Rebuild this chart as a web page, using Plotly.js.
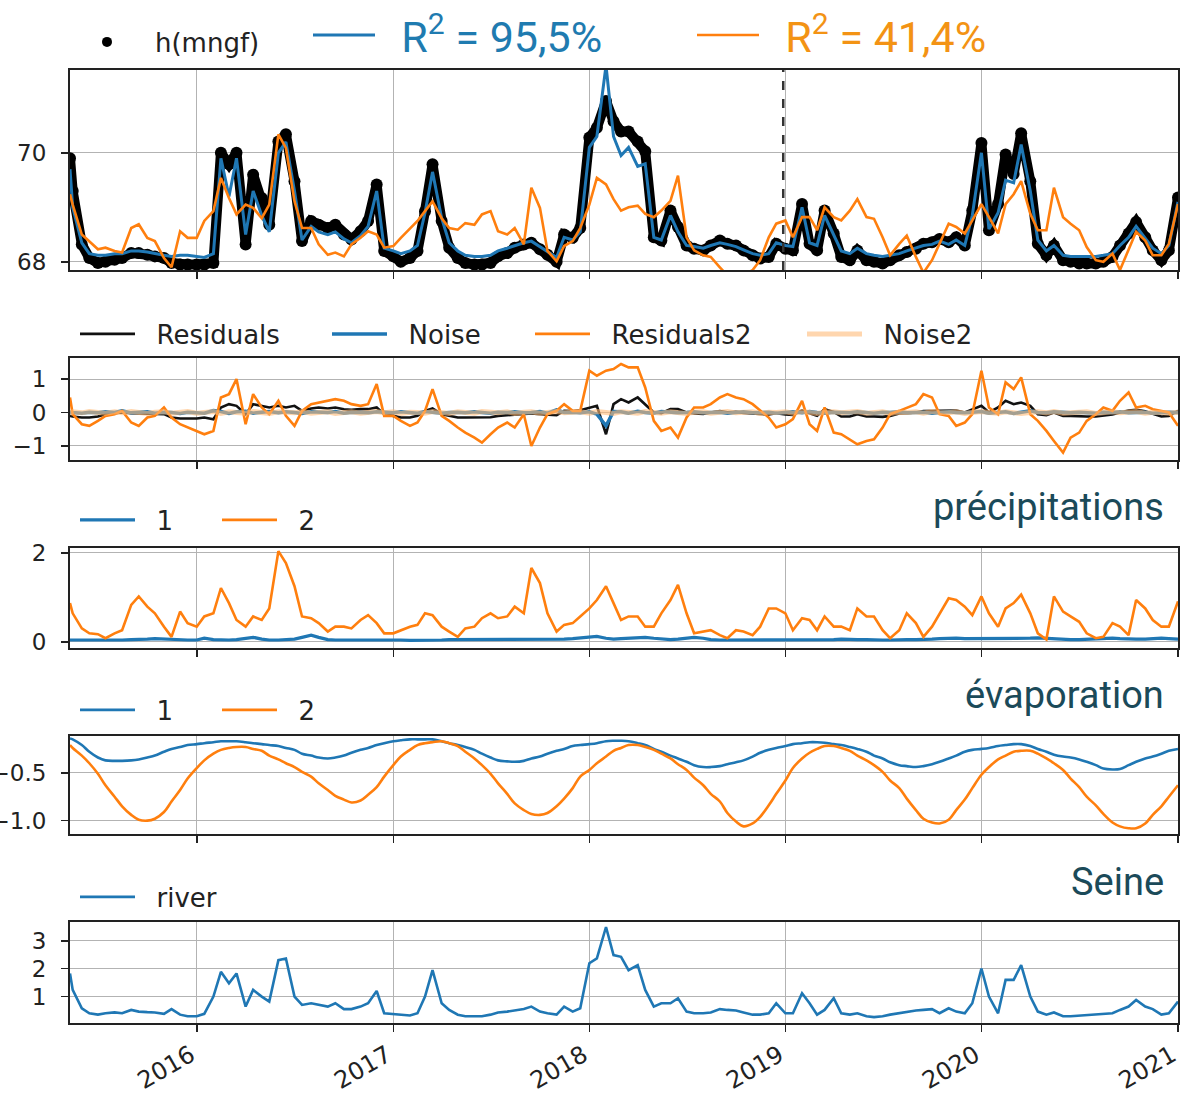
<!DOCTYPE html>
<html>
<head>
<meta charset="utf-8">
<script src="https://cdn.plot.ly/plotly-3.0.1.min.js"></script>
<style>
  html, body { margin: 0; padding: 0; background: #fff; }
  #chart { width: 1193px; height: 1096px; }
</style>
</head>
<body>
<div id="chart"></div>
<script>
// ---------- sampling grid (semi-monthly) ----------
const dates = ['2015-05-10'];
for (let y = 2015; y <= 2020; y++) {
  for (let m = 1; m <= 12; m++) {
    for (const d of ['01', '15']) {
      if (y === 2015 && (m < 5 || (m === 5 && d === '01'))) continue;
      dates.push(y + '-' + String(m).padStart(2, '0') + '-' + d);
    }
  }
}
dates.push('2021-01-01');

const yearTicks = ['2016-01-01', '2017-01-01', '2018-01-01', '2019-01-01', '2020-01-01', '2021-01-01'];
const yearLabels = ['2016', '2017', '2018', '2019', '2020', '2021'];
const splitDate = '2018-12-28';

// ---------- panel 1 : heads ----------
const hObs = [
  69.9, 69.3, 68.32, 68.07, 67.98, 68.0, 68.04, 68.07, 68.16, 68.16, 68.13, 68.1, 68.07, 67.98, 67.95, 67.95,
  67.95, 67.95, 67.98, 70.0, 69.79, 70.0, 68.32, 69.6, 69.17, 68.68, 70.21, 70.34, 69.48, 68.38, 68.75, 68.68, 68.62, 68.68, 68.5, 68.41, 68.56, 68.75, 69.42, 68.2,
  68.1, 68.0, 68.07, 68.2, 68.93, 69.79, 68.75, 68.26, 68.07, 67.98, 67.95, 67.95, 67.98, 68.1, 68.16, 68.26, 68.32, 68.35, 68.23, 68.13, 68.0, 68.5, 68.44, 68.62,
  70.28, 70.46, 70.95, 70.58, 70.39, 70.39, 70.21, 70.03, 68.45, 68.39, 68.94, 68.64, 68.3, 68.24, 68.21, 68.3, 68.39, 68.33, 68.3, 68.21, 68.12, 68.06, 68.09, 68.33,
  68.24, 68.21, 69.06, 68.33, 68.21, 68.94, 68.52, 68.09, 68.03, 68.21, 68.03, 68.0, 67.97, 68.03, 68.12, 68.18, 68.24, 68.33, 68.36, 68.42, 68.36, 68.45, 68.3, 68.94,
  70.18, 68.58, 69.06, 69.97, 69.61, 70.36, 69.48, 68.33, 68.12, 68.3, 68.03, 68.0, 67.97, 67.97, 67.97, 68.0, 68.09, 68.3, 68.52, 68.73, 68.45, 68.21, 68.03, 68.21,
  69.18
];
const hSim1 = [
  69.7, 69.0, 68.35, 68.15, 68.12, 68.12, 68.15, 68.15, 68.2, 68.2, 68.18, 68.15, 68.12, 68.1, 68.12, 68.12,
  68.1, 68.08, 68.15, 69.9, 69.2, 69.9, 68.5, 69.3, 68.85, 68.55, 70.0, 70.2, 69.3, 68.4, 68.65, 68.55, 68.5, 68.55, 68.42, 68.35, 68.48, 68.65, 69.3, 68.25,
  68.2, 68.15, 68.2, 68.3, 68.9, 69.65, 68.8, 68.35, 68.2, 68.12, 68.1, 68.1, 68.12, 68.2, 68.25, 68.3, 68.35, 68.38, 68.28, 68.2, 68.08, 68.45, 68.4, 68.55,
  70.1, 70.3, 71.6, 70.3, 69.95, 70.1, 69.75, 69.8, 68.45, 68.4, 68.85, 68.55, 68.3, 68.28, 68.25, 68.3, 68.35, 68.32, 68.28, 68.22, 68.15, 68.12, 68.15, 68.35,
  68.3, 68.28, 69.0, 68.35, 68.3, 68.85, 68.5, 68.2, 68.15, 68.25, 68.15, 68.12, 68.1, 68.12, 68.15, 68.2, 68.25, 68.3, 68.32, 68.38, 68.32, 68.4, 68.3, 68.85,
  70.0, 68.6, 68.9, 69.5, 69.45, 70.15, 69.3, 68.4, 68.2, 68.3, 68.12, 68.1, 68.1, 68.1, 68.1, 68.12, 68.15, 68.3, 68.45, 68.65, 68.42, 68.25, 68.15, 68.3,
  69.1
];
const hSim2 = [
  69.24, 69.05, 68.5, 68.38, 68.23, 68.26, 68.2, 68.17, 68.62, 68.69, 68.44, 68.38, 68.07, 67.9, 68.56, 68.44,
  68.44, 68.75, 68.93, 69.54, 69.17, 68.87, 69.05, 68.99, 68.8, 69.05, 70.34, 70.09, 69.11, 68.62, 68.62, 68.32, 68.13, 68.17, 68.1, 68.32, 68.44, 68.56, 68.5, 68.26,
  68.29, 68.44, 68.62, 68.75, 68.93, 69.11, 68.8, 68.62, 68.59, 68.71, 68.68, 68.87, 68.93, 68.56, 68.5, 68.62, 68.32, 69.36, 68.99, 68.2, 68.01, 68.29, 68.38, 68.62,
  69.05, 69.54, 69.42, 69.15, 68.94, 69.0, 69.03, 68.88, 68.82, 68.94, 69.12, 69.58, 68.45, 68.21, 68.12, 68.09, 67.9, 67.75, 67.7, 67.75, 67.85, 68.03, 68.45, 68.7,
  68.76, 68.45, 68.82, 68.82, 68.58, 69.0, 68.82, 68.76, 68.94, 69.15, 68.82, 68.79, 68.45, 68.12, 68.33, 68.48, 68.09, 67.8, 68.03, 68.33, 68.7, 68.64, 68.52, 68.76,
  69.06, 68.82, 68.52, 69.06, 69.24, 69.48, 68.88, 68.58, 68.58, 69.36, 68.82, 68.7, 68.58, 68.27, 68.03, 68.0, 68.15, 67.85, 68.21, 68.55, 68.39, 68.12, 68.12, 68.33,
  69.06
];

// ---------- panel 2 : residuals ----------
const res1 = [
  -0.1, -0.12, -0.15, -0.15, -0.12, -0.05, -0.02, 0.0, -0.02, -0.03, -0.05, -0.05, -0.05, -0.15, -0.18, -0.18,
  -0.18, -0.15, -0.2, 0.15, 0.25, 0.2, -0.05, 0.25, 0.2, 0.15, 0.2, 0.15, 0.2, 0.05, 0.12, 0.15, 0.12, 0.15, 0.1, 0.08, 0.1, 0.1, 0.15, -0.05,
  -0.1, -0.15, -0.15, -0.1, 0.05, 0.12, -0.05, -0.1, -0.15, -0.15, -0.15, -0.15, -0.14, -0.1, -0.08, -0.05, -0.03, -0.03, -0.05, -0.07, -0.08, 0.05, 0.04, 0.07,
  0.15, 0.2, -0.65, 0.25, 0.4, 0.3, 0.45, 0.25, 0.0, -0.02, 0.1, 0.1, 0.0, -0.03, -0.04, 0.0, 0.04, 0.01, 0.02, -0.01, -0.03, -0.06, -0.06, -0.02,
  -0.06, -0.07, 0.06, -0.02, -0.1, 0.1, 0.02, -0.12, -0.12, -0.05, -0.12, -0.12, -0.13, -0.1, -0.03, -0.02, 0.0, 0.04, 0.05, 0.05, 0.05, 0.06, 0.0, 0.1,
  0.2, 0.0, 0.15, 0.35, 0.25, 0.3, 0.2, -0.05, -0.08, 0.0, -0.1, -0.1, -0.12, -0.12, -0.12, -0.1, -0.06, 0.0, 0.06, 0.08, 0.04, -0.04, -0.12, -0.1,
  0.05
];
const noise1 = [
  0.02, 0.0, -0.02, 0.01, -0.01, 0.02, 0.0, 0.05, -0.01, 0.0, 0.02, -0.02, 0.01, 0.0, -0.03, 0.01,
  0.0, -0.02, 0.06, 0.03, -0.03, 0.02, 0.04, -0.02, 0.01, 0.03, -0.01, 0.02, 0.0, -0.03, 0.02, 0.01, 0.0, 0.03, -0.02, 0.01, 0.0, -0.01, 0.02, 0.0,
  -0.01, 0.02, 0.0, -0.02, 0.03, 0.01, -0.02, 0.0, 0.01, -0.01, 0.02, 0.0, -0.02, 0.01, 0.0, 0.02, -0.01, 0.0, 0.03, -0.02, 0.08, 0.0, 0.01, -0.01,
  0.02, -0.05, -0.4, 0.03, 0.02, -0.02, 0.04, 0.0, -0.02, 0.03, 0.01, -0.01, 0.0, 0.02, -0.01, 0.0, 0.01, -0.02, 0.0, 0.02, -0.01, 0.0, 0.01, -0.02,
  0.0, 0.02, -0.01, 0.03, 0.0, -0.02, 0.01, 0.0, -0.01, 0.02, 0.0, -0.02, 0.01, 0.0, 0.02, -0.01, 0.0, 0.01, -0.02, 0.0, 0.02, 0.0, -0.01, 0.01,
  0.03, -0.02, 0.0, 0.02, -0.03, 0.01, 0.05, 0.0, -0.01, 0.02, 0.0, -0.01, 0.01, 0.0, -0.02, 0.01, 0.0, 0.02, -0.01, 0.0, 0.01, -0.02, 0.0, 0.01,
  0.0
];
const res2 = [
  0.45, -0.05, -0.35, -0.4, -0.25, -0.1, -0.05, 0.05, -0.3, -0.4, -0.15, -0.1, 0.15, -0.15, -0.35, -0.45,
  -0.55, -0.65, -0.55, 0.45, 0.55, 1.0, -0.35, 0.55, 0.15, -0.05, 0.35, -0.1, -0.4, 0.05, 0.25, 0.3, 0.35, 0.4, 0.35, 0.25, 0.2, 0.25, 0.85, -0.1,
  -0.1, -0.25, -0.4, -0.3, 0.05, 0.7, -0.1, -0.25, -0.45, -0.6, -0.75, -0.9, -0.65, -0.45, -0.3, -0.45, -0.05, -1.0, -0.45, -0.05, 0.05, 0.25, 0.05, 0.05,
  1.25, 1.1, 1.25, 1.3, 1.45, 1.35, 1.35, 0.75, -0.25, -0.55, -0.45, -0.75, -0.15, 0.15, 0.15, 0.25, 0.45, 0.55, 0.45, 0.4, 0.25, 0.05, -0.15, -0.45,
  -0.35, -0.2, 0.35, -0.35, -0.55, 0.15, -0.6, -0.65, -0.8, -0.95, -0.85, -0.8, -0.45, -0.05, 0.05, 0.15, 0.25, 0.55, 0.45, -0.05, -0.1, -0.4, -0.3, -0.05,
  1.25, 0.15, -0.05, 0.9, 0.7, 1.05, -0.05, -0.25, -0.55, -0.85, -1.2, -0.75, -0.6, -0.25, -0.05, 0.15, 0.05, 0.35, 0.6, 0.15, 0.2, 0.1, 0.05, 0.0,
  -0.4
];
const noise2 = [
  -0.03, 0.02, -0.01, 0.03, 0.0, -0.02, 0.02, -0.01, 0.03, 0.0, -0.03, 0.01, 0.02, -0.02, 0.0, 0.03,
  -0.02, 0.01, 0.03, -0.03, 0.02, 0.0, -0.02, 0.03, 0.01, -0.03, 0.02, 0.0, -0.01, 0.03, -0.02, 0.0, 0.02, -0.03, 0.01, 0.02, -0.02, 0.0, 0.03, -0.01,
  0.02, -0.03, 0.01, 0.0, -0.02, 0.03, 0.0, -0.03, 0.02, 0.01, -0.02, 0.03, 0.0, -0.01, 0.02, -0.03, 0.01, 0.02, -0.02, 0.0, 0.03, -0.01, 0.0, 0.02,
  -0.02, 0.03, 0.0, -0.03, 0.02, 0.01, -0.02, 0.03, 0.0, -0.02, 0.02, 0.0, -0.03, 0.01, 0.02, -0.02, 0.0, 0.03, -0.01, 0.0, 0.02, -0.03, 0.01, 0.0,
  0.02, -0.02, 0.03, 0.0, -0.03, 0.01, 0.02, -0.01, 0.0, 0.03, -0.02, 0.0, 0.02, -0.03, 0.01, 0.0, 0.02, -0.02, 0.03, 0.0, -0.01, 0.02, -0.03, 0.0,
  0.03, 0.0, -0.02, 0.02, 0.01, -0.03, 0.0, 0.02, -0.01, 0.03, -0.02, 0.0, 0.01, 0.02, -0.03, 0.0, 0.02, -0.01, 0.0, 0.03, -0.02, 0.01, 0.0, -0.02,
  0.01
];

// ---------- panel 3 : précipitations ----------
const precip1 = [
  0.04, 0.04, 0.03, 0.03, 0.03, 0.04, 0.04, 0.04, 0.05, 0.05, 0.06, 0.07, 0.06, 0.05, 0.04, 0.04,
  0.04, 0.08, 0.05, 0.04, 0.04, 0.05, 0.07, 0.1, 0.06, 0.04, 0.04, 0.05, 0.06, 0.1, 0.15, 0.1, 0.05, 0.04, 0.04, 0.04, 0.05, 0.05, 0.04, 0.04,
  0.04, 0.04, 0.03, 0.03, 0.04, 0.04, 0.04, 0.05, 0.05, 0.05, 0.06, 0.06, 0.06, 0.05, 0.05, 0.05, 0.06, 0.06, 0.05, 0.05, 0.05, 0.06, 0.07, 0.09,
  0.1, 0.12, 0.08, 0.06, 0.07, 0.08, 0.09, 0.1, 0.08, 0.06, 0.05, 0.06, 0.08, 0.1, 0.08, 0.05, 0.04, 0.04, 0.04, 0.04, 0.04, 0.05, 0.05, 0.05,
  0.05, 0.05, 0.04, 0.04, 0.05, 0.05, 0.05, 0.06, 0.05, 0.05, 0.05, 0.04, 0.04, 0.04, 0.05, 0.05, 0.05, 0.05, 0.06, 0.07, 0.08, 0.08, 0.07, 0.07,
  0.07, 0.07, 0.08, 0.08, 0.07, 0.07, 0.08, 0.09, 0.08, 0.06, 0.05, 0.05, 0.05, 0.06, 0.07, 0.08, 0.08, 0.07, 0.06, 0.06, 0.06, 0.07, 0.08, 0.07,
  0.06
];
const precip2 = [
  0.87, 0.64, 0.3, 0.19, 0.17, 0.08, 0.19, 0.26, 0.83, 1.02, 0.79, 0.64, 0.34, 0.11, 0.68, 0.42,
  0.34, 0.57, 0.64, 1.21, 0.87, 0.49, 0.34, 0.57, 0.49, 0.75, 2.04, 1.77, 1.25, 0.57, 0.53, 0.42, 0.23, 0.34, 0.34, 0.3, 0.49, 0.6, 0.42, 0.19,
  0.19, 0.26, 0.34, 0.38, 0.64, 0.6, 0.34, 0.23, 0.11, 0.3, 0.34, 0.53, 0.64, 0.53, 0.57, 0.79, 0.64, 1.66, 1.32, 0.64, 0.23, 0.38, 0.42, 0.57,
  0.75, 0.94, 1.25, 0.87, 0.49, 0.57, 0.57, 0.34, 0.34, 0.64, 0.94, 1.28, 0.64, 0.19, 0.23, 0.26, 0.15, 0.08, 0.26, 0.23, 0.15, 0.34, 0.75, 0.75,
  0.64, 0.26, 0.53, 0.49, 0.26, 0.57, 0.34, 0.34, 0.26, 0.75, 0.57, 0.57, 0.26, 0.08, 0.26, 0.64, 0.42, 0.11, 0.34, 0.64, 0.98, 0.94, 0.79, 0.6,
  1.02, 0.64, 0.34, 0.75, 0.87, 1.06, 0.64, 0.19, 0.05, 1.02, 0.68, 0.57, 0.45, 0.19, 0.08, 0.11, 0.42, 0.34, 0.15, 0.94, 0.75, 0.49, 0.34, 0.34,
  0.91
];

// ---------- panel 4 : évaporation ----------
const evap1 = [
  -0.14, -0.15, -0.21, -0.28, -0.34, -0.37, -0.375, -0.375, -0.37, -0.36, -0.34, -0.32, -0.28, -0.25, -0.23, -0.21,
  -0.2, -0.19, -0.18, -0.17, -0.17, -0.17, -0.18, -0.19, -0.2, -0.21, -0.22, -0.24, -0.26, -0.3, -0.32, -0.34, -0.35, -0.34, -0.32, -0.29, -0.26, -0.24, -0.21, -0.19,
  -0.17, -0.16, -0.15, -0.15, -0.15, -0.15, -0.17, -0.19, -0.21, -0.23, -0.26, -0.3, -0.34, -0.37, -0.38, -0.385, -0.375, -0.35, -0.33, -0.3, -0.27, -0.25, -0.22, -0.21,
  -0.2, -0.19, -0.17, -0.165, -0.165, -0.17, -0.19, -0.21, -0.25, -0.28, -0.32, -0.35, -0.385, -0.42, -0.44, -0.44, -0.43, -0.41, -0.39, -0.37, -0.33, -0.29, -0.26, -0.24,
  -0.22, -0.2, -0.19, -0.18, -0.18, -0.185, -0.2, -0.21, -0.23, -0.25, -0.28, -0.32, -0.35, -0.39, -0.42, -0.43, -0.44, -0.43, -0.41, -0.385, -0.35, -0.32, -0.28, -0.26,
  -0.25, -0.24, -0.22, -0.21, -0.2, -0.2, -0.22, -0.25, -0.28, -0.31, -0.33, -0.34, -0.36, -0.385, -0.42, -0.455, -0.465, -0.46, -0.42, -0.385, -0.35, -0.33, -0.3, -0.27,
  -0.25
];
const evap2 = [
  -0.21, -0.24, -0.32, -0.4, -0.51, -0.63, -0.75, -0.85, -0.94, -0.99, -1.0, -0.98, -0.91, -0.8, -0.68, -0.56,
  -0.45, -0.37, -0.3, -0.26, -0.24, -0.23, -0.23, -0.25, -0.27, -0.32, -0.36, -0.4, -0.44, -0.49, -0.54, -0.61, -0.68, -0.74, -0.78, -0.81, -0.79, -0.73, -0.65, -0.54,
  -0.42, -0.33, -0.26, -0.21, -0.19, -0.18, -0.17, -0.19, -0.22, -0.28, -0.35, -0.42, -0.51, -0.61, -0.72, -0.82, -0.89, -0.93, -0.94, -0.92, -0.85, -0.77, -0.66, -0.54,
  -0.47, -0.4, -0.33, -0.27, -0.24, -0.21, -0.21, -0.23, -0.26, -0.3, -0.35, -0.41, -0.47, -0.55, -0.63, -0.72, -0.8, -0.92, -1.01, -1.06, -1.03, -0.96, -0.84, -0.72,
  -0.58, -0.45, -0.35, -0.29, -0.25, -0.22, -0.22, -0.24, -0.27, -0.32, -0.37, -0.42, -0.49, -0.58, -0.66, -0.77, -0.89, -0.98, -1.02, -1.03, -0.99, -0.89, -0.78, -0.66,
  -0.52, -0.44, -0.36, -0.32, -0.28, -0.27, -0.27, -0.3, -0.35, -0.4, -0.47, -0.56, -0.65, -0.75, -0.84, -0.93, -1.02, -1.06, -1.08, -1.08, -1.03, -0.94, -0.85, -0.75,
  -0.63
];

// ---------- panel 5 : Seine ----------
const river = [
  1.83, 1.24, 0.58, 0.4, 0.35, 0.4, 0.43, 0.4, 0.52, 0.46, 0.44, 0.43, 0.38, 0.55, 0.35, 0.29,
  0.29, 0.38, 1.0, 1.89, 1.48, 1.83, 0.64, 1.24, 1.0, 0.82, 2.31, 2.37, 1.0, 0.7, 0.76, 0.7, 0.64, 0.76, 0.55, 0.55, 0.64, 0.76, 1.2, 0.4,
  0.38, 0.35, 0.32, 0.4, 1.0, 1.95, 0.76, 0.52, 0.35, 0.29, 0.29, 0.29, 0.35, 0.43, 0.46, 0.5, 0.55, 0.64, 0.46, 0.4, 0.35, 0.64, 0.46, 0.58,
  2.2, 2.37, 3.5, 2.49, 2.43, 1.95, 2.13, 1.24, 0.64, 0.76, 0.76, 0.94, 0.46, 0.4, 0.4, 0.43, 0.55, 0.52, 0.5, 0.43, 0.35, 0.35, 0.4, 0.76,
  0.4, 0.4, 1.12, 0.76, 0.35, 0.52, 0.94, 0.4, 0.35, 0.4, 0.29, 0.26, 0.29, 0.35, 0.4, 0.46, 0.5, 0.52, 0.55, 0.4, 0.58, 0.46, 0.4, 0.76,
  2.01, 1.0, 0.4, 1.6, 1.6, 2.13, 1.0, 0.46, 0.35, 0.43, 0.29, 0.29, 0.31, 0.35, 0.35, 0.38, 0.4, 0.52, 0.64, 0.88, 0.64, 0.55, 0.35, 0.4,
  0.82
];

// ---------- styling / geometry ----------
const FONT = 'DejaVu Sans, sans-serif';
const CFONT = 'Roboto, sans-serif';
const BLUE = '#1f77b4', ORANGE = '#ff7f0e', NOISE2 = 'rgba(255,187,120,0.6)';
const L = 70, R = 1178, T = 70, B = 1023;
const px2x = p => (p - L) / (R - L);
const py2y = p => (B - p) / (B - T);
const LW = 2.6;
const PAD = '\u00a0\u00a0';

function xa(i, labels) {
  const a = {
    domain: [0, 1], anchor: i === 1 ? 'y' : 'y' + i, type: 'date',
    range: ['2015-05-10', '2021-01-01'],
    tickmode: 'array', tickvals: yearTicks, ticktext: yearLabels,
    showticklabels: labels, tickangle: -30, ticklabelshift: -6, ticklabelstandoff: 0,
    ticks: 'outside', ticklen: 7, tickwidth: 1.5, tickcolor: '#222',
    showgrid: true, gridcolor: '#b3b3b3', gridwidth: 1,
    showline: true, mirror: true, linecolor: '#222', linewidth: 2,
    zeroline: false, tickfont: { family: FONT, size: 24, color: '#222' }
  };
  if (i > 1) a.matches = 'x';
  return a;
}
function ya(i, top, bot, range, vals, texts) {
  return {
    domain: [py2y(bot), py2y(top)], anchor: i === 1 ? 'x' : 'x' + i,
    range: range, tickmode: 'array', tickvals: vals, ticktext: texts,
    ticks: 'outside', ticklen: 7, tickwidth: 1.5, tickcolor: '#222',
    ticklabelstandoff: 10,
    showgrid: true, gridcolor: '#b3b3b3', gridwidth: 1,
    showline: true, mirror: true, linecolor: '#222', linewidth: 2,
    zeroline: false, tickfont: { family: FONT, size: 23, color: '#222' }
  };
}
// legend placed so that its symbol starts at symPx (origin = symPx - 5)
function lg(symPx, yPx, W, font) {
  return {
    x: px2x(symPx - 5), y: py2y(yPx), xanchor: 'left', yanchor: 'middle',
    orientation: 'h', itemwidth: W, bgcolor: 'rgba(0,0,0,0)', borderwidth: 0,
    font: font || { family: FONT, size: 26, color: '#222' },
    itemclick: false, itemdoubleclick: false
  };
}

const traces = [
  // panel 1
  { x: dates, y: hObs, xaxis: 'x', yaxis: 'y', mode: 'lines+markers', showlegend: false,
    line: { color: '#000', width: 10 }, marker: { color: '#000', size: 12 } },
  { x: [null], y: [null], xaxis: 'x', yaxis: 'y', mode: 'markers', name: 'h(mngf)', legend: 'legend',
    marker: { color: '#000', size: 10 } },
  { x: dates, y: hSim1, xaxis: 'x', yaxis: 'y', mode: 'lines', name: PAD + 'R<sup>2</sup> = 95,5%', legend: 'legend2',
    line: { color: BLUE, width: LW + 0.4 } },
  { x: dates, y: hSim2, xaxis: 'x', yaxis: 'y', mode: 'lines', name: PAD + 'R<sup>2</sup> = 41,4%', legend: 'legend3',
    line: { color: ORANGE, width: LW } },
  // panel 2
  { x: dates, y: res1, xaxis: 'x2', yaxis: 'y2', mode: 'lines', name: PAD + 'Residuals', legend: 'legend4',
    line: { color: '#111', width: LW } },
  { x: dates, y: noise1, xaxis: 'x2', yaxis: 'y2', mode: 'lines', name: PAD + 'Noise', legend: 'legend5',
    line: { color: BLUE, width: 3.5 } },
  { x: dates, y: res2, xaxis: 'x2', yaxis: 'y2', mode: 'lines', name: PAD + 'Residuals2', legend: 'legend6',
    line: { color: ORANGE, width: LW } },
  { x: dates, y: noise2, xaxis: 'x2', yaxis: 'y2', mode: 'lines', name: PAD + 'Noise2', legend: 'legend7',
    line: { color: NOISE2, width: 5 } },
  // panel 3
  { x: dates, y: precip1, xaxis: 'x3', yaxis: 'y3', mode: 'lines', name: PAD + '1', legend: 'legend8',
    line: { color: BLUE, width: LW + 0.6 } },
  { x: dates, y: precip2, xaxis: 'x3', yaxis: 'y3', mode: 'lines', name: PAD + '2', legend: 'legend9',
    line: { color: ORANGE, width: LW } },
  // panel 4
  { x: dates, y: evap1, xaxis: 'x4', yaxis: 'y4', mode: 'lines', name: PAD + '1', legend: 'legend10',
    line: { color: BLUE, width: LW, shape: 'spline' } },
  { x: dates, y: evap2, xaxis: 'x4', yaxis: 'y4', mode: 'lines', name: PAD + '2', legend: 'legend11',
    line: { color: ORANGE, width: LW, shape: 'spline' } },
  // panel 5
  { x: dates, y: river, xaxis: 'x5', yaxis: 'y5', mode: 'lines', name: PAD + 'river', legend: 'legend12',
    line: { color: BLUE, width: LW } }
];

const titleFont = { family: CFONT, size: 38, color: '#1b4a59' };
const r2Blue = { family: CFONT, size: 43, color: '#1f7bb0' };
const r2Orange = { family: CFONT, size: 43, color: '#f39314' };
const layout = {
  width: 1193, height: 1096,
  margin: { l: L, r: 1193 - R, t: T, b: 1096 - B, autoexpand: false },
  paper_bgcolor: '#fff', plot_bgcolor: '#fff',
  font: { family: FONT, size: 23, color: '#222' },
  xaxis: xa(1, false), xaxis2: xa(2, false), xaxis3: xa(3, false), xaxis4: xa(4, false), xaxis5: xa(5, true),
  yaxis: ya(1, 70, 270, [67.85, 71.52], [68, 70], ['68', '70']),
  yaxis2: ya(2, 358, 460, [-1.42, 1.63], [-1, 0, 1], ['\u22121', '0', '1']),
  yaxis3: ya(3, 548, 648, [-0.14, 2.11], [0, 2], ['0', '2']),
  yaxis4: ya(4, 736, 834, [-1.14, -0.115], [-1.0, -0.5], ['\u22121.0', '\u22120.5']),
  yaxis5: ya(5, 922, 1023, [0.05, 3.68], [1, 2, 3], ['1', '2', '3']),
  legend: lg(64, 42, 86),
  legend2: lg(313, 35, 62, r2Blue),
  legend3: lg(697, 35, 62, r2Orange),
  legend4: lg(80, 334, 55), legend5: lg(332, 334, 55), legend6: lg(535, 334, 55), legend7: lg(807, 334, 55),
  legend8: lg(80, 520, 55), legend9: lg(222, 520, 55),
  legend10: lg(80, 710, 55), legend11: lg(222, 710, 55),
  legend12: lg(80, 897, 55),
  shapes: [
    { type: 'line', xref: 'x', yref: 'y domain', x0: splitDate, x1: splitDate, y0: 0, y1: 1,
      line: { color: '#333', width: 2.5, dash: 'dash' } }
  ],
  annotations: [
    { text: 'précipitations', xref: 'paper', yref: 'paper', x: px2x(1166), y: py2y(507), xanchor: 'right', yanchor: 'middle', showarrow: false, font: titleFont },
    { text: 'évaporation', xref: 'paper', yref: 'paper', x: px2x(1166), y: py2y(695), xanchor: 'right', yanchor: 'middle', showarrow: false, font: titleFont },
    { text: 'Seine', xref: 'paper', yref: 'paper', x: px2x(1166), y: py2y(882), xanchor: 'right', yanchor: 'middle', showarrow: false, font: titleFont }
  ]
};

Plotly.newPlot('chart', traces, layout, { staticPlot: true, displayModeBar: false });
</script>
</body>
</html>
